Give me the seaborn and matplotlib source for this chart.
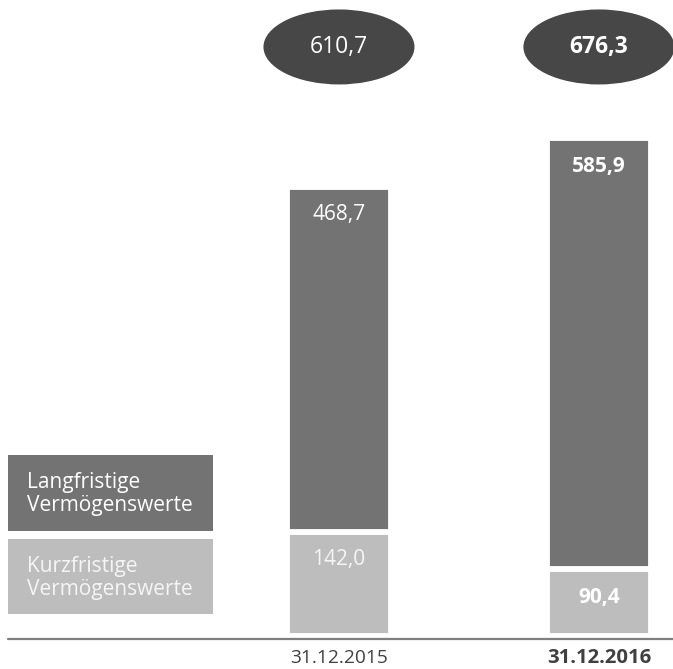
import matplotlib
matplotlib.use("Agg")
import matplotlib.pyplot as plt
from matplotlib.patches import Ellipse, Rectangle
import seaborn as sns
import pandas as pd

# ---- data ----
dates = ["31.12.2015", "31.12.2016"]
kurzfristig = [142.0, 90.4]
langfristig = [468.7, 585.9]
label_kurz = "Kurzfristige\nVermögenswerte"
label_lang = "Langfristige\nVermögenswerte"

totals = [k + l for k, l in zip(kurzfristig, langfristig)]
df = pd.DataFrame({"Datum": dates, "Kurz": kurzfristig, "Lang": langfristig, "Total": totals})

def fmt(v):
    return f"{v:.1f}".replace(".", ",")

sns.set_theme(style="white")
plt.rcParams["font.family"] = ["Open Sans", "DejaVu Sans"]

DARK = "#737373"
LIGHT = "#bdbdbd"
OVAL = "#474747"
W, H = 673, 669
fig = plt.figure(figsize=(W / 100, H / 100), dpi=100)
ax = fig.add_axes([0, 0, 1, 1])

sns.barplot(data=df, x="Datum", y="Total", color=DARK, saturation=1, width=0.4,
            edgecolor="white", linewidth=4.2, ax=ax)
sns.barplot(data=df, x="Datum", y="Kurz", color=LIGHT, saturation=1, width=0.4,
            edgecolor="white", linewidth=4.2, ax=ax)

ax.set_xlim(-1.304, 1.285)
ax.set_ylim(-44.8, 864.1)
ax.axis("off")

# baseline
ax.axhline(-4, xmin=8 / W, xmax=1, color="#7f7f7f", lw=1.6)

bold = [False, True]
for i, (d, k, l, t) in enumerate(zip(dates, kurzfristig, langfristig, totals)):
    fw = "bold" if bold[i] else "normal"
    ax.text(i, t - 38, fmt(l), ha="center", va="center", color="white",
            fontsize=15, fontweight=fw)
    ax.text(i, k - 38, fmt(k), ha="center", va="center",
            color="#f5f5f5" if not bold[i] else "white", fontsize=15, fontweight=fw)
    ax.add_patch(Ellipse((i, 800.3), 0.581, 101.9, color=OVAL, lw=0))
    ax.text(i, 800.3, fmt(t), ha="center", va="center", color="white",
            fontsize=16.5, fontweight=fw)
    ax.text(i, -30.0, d, ha="center", va="center", color="#404040",
            fontsize=14.6 if bold[i] else 13.8, fontweight=fw)

# legend boxes (figure pixel layout)
def fx(px):
    return px / W

def fy(py):
    return 1 - py / H

fig.patches.append(Rectangle((fx(8), fy(531)), fx(213) - fx(8), (531 - 455) / H,
                             transform=fig.transFigure, color=DARK, lw=0))
fig.patches.append(Rectangle((fx(8), fy(614)), fx(213) - fx(8), (614 - 539) / H,
                             transform=fig.transFigure, color=LIGHT, lw=0))
fig.text(fx(27), fy(494), label_lang, ha="left", va="center", color="white",
         fontsize=15, linespacing=1.15)
fig.text(fx(27), fy(578), label_kurz, ha="left", va="center", color="#f5f5f5",
         fontsize=15, linespacing=1.15)

fig.savefig("out.png", dpi=100)
